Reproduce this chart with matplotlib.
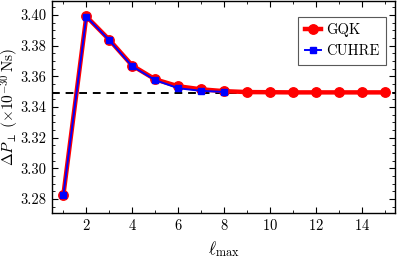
import matplotlib
matplotlib.use("Agg")
import matplotlib.pyplot as plt
from matplotlib.ticker import MultipleLocator

plt.rcParams["font.family"] = "serif"
plt.rcParams["font.serif"] = ["cmr10"]
plt.rcParams["mathtext.fontset"] = "cm"
plt.rcParams["axes.formatter.use_mathtext"] = True

# Daten
l_gqk = [1, 2, 3, 4, 5, 6, 7, 8, 9, 10, 11, 12, 13, 14, 15]
dp_gqk = [3.2825, 3.3990, 3.3838, 3.3670, 3.3580, 3.3535, 3.3515, 3.3503,
          3.3497, 3.3496, 3.3495, 3.3495, 3.3495, 3.3495, 3.3495]
l_cuhre = [1, 2, 3, 4, 5, 6, 7, 8]
dp_cuhre = [3.2825, 3.3988, 3.3835, 3.3665, 3.3575, 3.3522, 3.3505, 3.3498]
ref_value = 3.349

fig = plt.figure(figsize=(3.99, 2.59), dpi=100)
ax = fig.add_axes([0.130, 0.178, 0.860, 0.818])

ax.axhline(ref_value, color="black", ls=(0, (4, 3)), lw=1.4, zorder=1)
ax.plot(l_gqk, dp_gqk, color="red", lw=3.2, marker="o", ms=6.8, label="GQK", zorder=2)
ax.plot(l_cuhre, dp_cuhre, color="blue", lw=1.4, marker="s", ms=4.2, label="CUHRE", zorder=3)

ax.set_xlim(0.5, 15.45)
ax.set_ylim(3.271, 3.409)
ax.xaxis.set_major_locator(MultipleLocator(2))
ax.xaxis.set_minor_locator(MultipleLocator(1))
ax.yaxis.set_major_locator(MultipleLocator(0.02))
ax.yaxis.set_minor_locator(MultipleLocator(0.005))
ax.yaxis.set_major_formatter(plt.FormatStrFormatter("%.2f"))
ax.tick_params(which="both", direction="in", top=True, right=True, labelsize=10.5)
ax.tick_params(which="major", length=4, width=0.8, pad=4)
ax.tick_params(which="minor", length=2, width=0.6)
for s in ax.spines.values():
    s.set_linewidth(1.0)

ax.set_xlabel(r"$\ell_{\max}$", fontsize=12.5, labelpad=4)
ax.set_ylabel(r"$\Delta P_\perp\;(\times10^{-30}\,\mathrm{Ns})$", fontsize=11)
ax.yaxis.set_label_coords(-0.09, 0.5)

leg = ax.legend(loc="upper right", bbox_to_anchor=(0.975, 0.925), fancybox=False,
                edgecolor="0.35", framealpha=1, fontsize=10.5, handlelength=1.15,
                handletextpad=0.35, borderpad=0.45, labelspacing=0.5, borderaxespad=0)
leg.get_frame().set_linewidth(0.8)

fig.savefig("out.png", dpi=100)
